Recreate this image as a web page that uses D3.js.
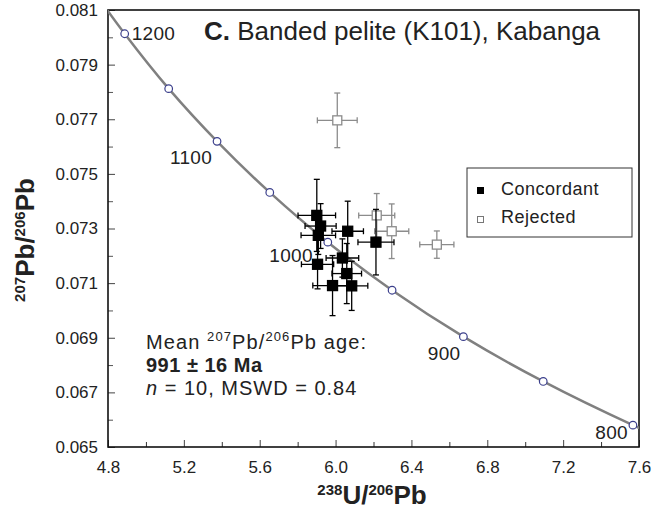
<!DOCTYPE html>
<html>
<head>
<meta charset="utf-8">
<script src="https://d3js.org/d3.v7.min.js"></script>
<style>
  body { margin: 0; background: #fff; }
  text { font-family: "Liberation Sans", Arial, sans-serif; fill: #222; }
</style>
</head>
<body>
<svg id="viz" width="652" height="511"></svg>
<script>
// concordia curve (ages in Ma) and its ratios
var concAge = [1250, 1200, 1150, 1100, 1050, 1000, 950, 900, 850, 800, 780];
var concX = [4.673, 4.888, 5.120, 5.375, 5.653, 5.959, 6.298, 6.674, 7.095, 7.568, 7.775];
var concY = [0.08219, 0.08013, 0.07812, 0.07619, 0.07432, 0.07250, 0.07074, 0.06904, 0.06740, 0.06580, 0.06518];
var markerAges = [1200, 1150, 1100, 1050, 1000, 950, 900, 850, 800];
var labelAges = [1200, 1100, 1000, 900, 800];

// concordant analyses
var concX_U = [5.901, 5.921, 5.909, 6.064, 6.213, 5.905, 6.036, 6.059, 5.984, 6.085];
var concY_Pb = [0.07348, 0.07309, 0.07275, 0.07290, 0.07250, 0.07169, 0.07192, 0.07135, 0.07091, 0.07090];
var concXErr = [0.099, 0.082, 0.091, 0.083, 0.095, 0.085, 0.086, 0.078, 0.104, 0.085];
var concYErr = [0.00132, 0.00082, 0.0007, 0.0011, 0.0012, 0.0009, 0.0007, 0.0011, 0.0011, 0.0009];

// rejected analyses
var rejX = [6.009, 6.217, 6.296, 6.534];
var rejY = [0.07696, 0.07348, 0.07290, 0.07241];
var rejXErr = [0.105, 0.095, 0.09, 0.09];
var rejYErr = [0.0010, 0.0008, 0.0010, 0.0005];

var xTicks = [4.8, 5.2, 5.6, 6.0, 6.4, 6.8, 7.2, 7.6];
var xMinor = [5.0, 5.4, 5.8, 6.2, 6.6, 7.0, 7.4];
var yTicks = [0.065, 0.067, 0.069, 0.071, 0.073, 0.075, 0.077, 0.079, 0.081];
var yMinor = [0.066, 0.068, 0.070, 0.072, 0.074, 0.076, 0.078, 0.080];

var padL = 108, padR = 639, padT = 10, padB = 447;
var svg = d3.select("#viz");

var x = d3.scaleLinear().domain([4.8, 7.6]).range([padL, padR]);
var y = d3.scaleLinear().domain([0.065, 0.081]).range([padB, padT]);

svg.append("clipPath").attr("id", "clip")
  .append("rect").attr("x", padL).attr("y", padT)
  .attr("width", padR - padL).attr("height", padB - padT);

// minor ticks
svg.append("g").attr("transform", "translate(0," + padB + ")")
  .call(d3.axisBottom(x).tickValues(xMinor).tickSize(-5).tickFormat(""))
  .call(function(g) { g.select(".domain").remove(); g.selectAll("line").attr("stroke", "#333"); });
svg.append("g").attr("transform", "translate(" + padL + ",0)")
  .call(d3.axisLeft(y).tickValues(yMinor).tickSize(-5).tickFormat(""))
  .call(function(g) { g.select(".domain").remove(); g.selectAll("line").attr("stroke", "#555"); });

// major axes
var xAxis = svg.append("g").attr("transform", "translate(0," + padB + ")")
  .call(d3.axisBottom(x).tickValues(xTicks).tickSize(-7).tickPadding(14).tickFormat(d3.format(".1f")));
var yAxis = svg.append("g").attr("transform", "translate(" + padL + ",0)")
  .call(d3.axisLeft(y).tickValues(yTicks).tickSize(-7).tickPadding(10).tickFormat(d3.format(".3f")));
[xAxis, yAxis].forEach(function(g) {
  g.select(".domain").remove();
  g.selectAll("line").attr("stroke", "#444");
  g.selectAll("text").style("font-size", "17px").style("font-family", "Liberation Sans, Arial").attr("fill", "#222");
});

// frame
svg.append("rect").attr("x", padL).attr("y", padT)
  .attr("width", padR - padL).attr("height", padB - padT)
  .attr("fill", "none").attr("stroke", "#111").attr("stroke-width", 1.6);

// concordia
var conc = concAge.map(function(a, i) { return { age: a, x: concX[i], y: concY[i] }; });
svg.append("path").datum(conc)
  .attr("clip-path", "url(#clip)")
  .attr("fill", "none").attr("stroke", "#808080").attr("stroke-width", 2.5)
  .attr("d", d3.line().x(function(d) { return x(d.x); }).y(function(d) { return y(d.y); }).curve(d3.curveCatmullRom));

var marks = conc.filter(function(d) { return markerAges.indexOf(d.age) >= 0; });
svg.selectAll(".agemark").data(marks).enter().append("circle")
  .attr("cx", function(d) { return x(d.x); })
  .attr("cy", function(d) { return y(d.y); })
  .attr("r", 3.8).attr("fill", "#fff").attr("stroke", "#3b3f8c").attr("stroke-width", 1.2);

var labOff = { 1200: [7, 6, "start"], 1100: [-5, 23, "end"], 1000: [-15, 20, "end"], 900: [-3, 23, "end"], 800: [-5, 14, "end"] };
svg.selectAll(".agelab").data(marks.filter(function(d) { return labelAges.indexOf(d.age) >= 0; }))
  .enter().append("text")
  .attr("x", function(d) { return x(d.x) + labOff[d.age][0]; })
  .attr("y", function(d) { return y(d.y) + labOff[d.age][1]; })
  .attr("text-anchor", function(d) { return labOff[d.age][2]; })
  .style("font-size", "19px").style("letter-spacing", "0.3px")
  .text(function(d) { return d.age; });

function drawSet(xs, ys, xe, ye, color, filled) {
  var data = xs.map(function(v, i) { return { x: v, y: ys[i], xe: xe[i], ye: ye[i] }; });
  var g = svg.append("g").attr("stroke", color).attr("stroke-width", 1.3);
  var cap = 3;
  data.forEach(function(d) {
    var cx = x(d.x), cy = y(d.y);
    var x0 = x(d.x - d.xe), x1 = x(d.x + d.xe), y0 = y(d.y + d.ye), y1 = y(d.y - d.ye);
    g.append("line").attr("x1", x0).attr("x2", x1).attr("y1", cy).attr("y2", cy);
    g.append("line").attr("x1", cx).attr("x2", cx).attr("y1", y0).attr("y2", y1);
    g.append("line").attr("x1", x0).attr("x2", x0).attr("y1", cy - cap).attr("y2", cy + cap);
    g.append("line").attr("x1", x1).attr("x2", x1).attr("y1", cy - cap).attr("y2", cy + cap);
    g.append("line").attr("x1", cx - cap).attr("x2", cx + cap).attr("y1", y0).attr("y2", y0);
    g.append("line").attr("x1", cx - cap).attr("x2", cx + cap).attr("y1", y1).attr("y2", y1);
  });
  var s = filled ? 10 : 9;
  g.selectAll("rect").data(data).enter().append("rect")
    .attr("x", function(d) { return x(d.x) - s / 2; })
    .attr("y", function(d) { return y(d.y) - s / 2; })
    .attr("width", s).attr("height", s)
    .attr("fill", filled ? "#000" : "#fff")
    .attr("stroke", filled ? "#000" : color);
}
drawSet(rejX, rejY, rejXErr, rejYErr, "#8c8c8c", false);
drawSet(concX_U, concY_Pb, concXErr, concYErr, "#000", true);

// legend
svg.append("rect").attr("x", 467).attr("y", 168).attr("width", 165).attr("height", 69)
  .attr("fill", "#fff").attr("stroke", "#333").attr("stroke-width", 1);
svg.append("rect").attr("x", 477).attr("y", 187).attr("width", 7).attr("height", 7).attr("fill", "#000");
svg.append("rect").attr("x", 477.5).attr("y", 216.5).attr("width", 6).attr("height", 6).attr("fill", "#fff").attr("stroke", "#777");
svg.append("text").attr("x", 501).attr("y", 195).style("font-size", "18px").style("letter-spacing", "0.5px").text("Concordant");
svg.append("text").attr("x", 501).attr("y", 223).style("font-size", "18px").style("letter-spacing", "0.5px").text("Rejected");

// title
var t = svg.append("text").attr("x", 204).attr("y", 40).style("font-size", "26px");
t.append("tspan").style("font-weight", "bold").text("C.");
t.append("tspan").text(" Banded pelite (K101), Kabanga");

// annotation
var a1 = svg.append("text").attr("x", 146).attr("y", 349).style("font-size", "20px").style("letter-spacing", "1.1px");
a1.append("tspan").text("Mean ");
a1.append("tspan").attr("dy", -8).style("font-size", "13px").text("207");
a1.append("tspan").attr("dy", 8).text("Pb/");
a1.append("tspan").attr("dy", -8).style("font-size", "13px").text("206");
a1.append("tspan").attr("dy", 8).text("Pb age:");
svg.append("text").attr("x", 146).attr("y", 372).style("font-size", "20px").style("letter-spacing", "0.5px")
  .style("font-weight", "bold").text("991 ± 16 Ma");
var a3 = svg.append("text").attr("x", 146).attr("y", 395).style("font-size", "20px").style("letter-spacing", "1px");
a3.append("tspan").style("font-style", "italic").text("n");
a3.append("tspan").text(" = 10, MSWD = 0.84");

// axis titles
var xt = svg.append("text").attr("x", 372).attr("y", 504).attr("text-anchor", "middle")
  .style("font-weight", "bold").style("font-size", "26px");
xt.append("tspan").attr("dy", -9).style("font-size", "15px").text("238");
xt.append("tspan").attr("dy", 9).text("U/");
xt.append("tspan").attr("dy", -9).style("font-size", "15px").text("206");
xt.append("tspan").attr("dy", 9).text("Pb");

var yt = svg.append("text").attr("transform", "translate(34,240) rotate(-90)").attr("text-anchor", "middle")
  .style("font-weight", "bold").style("font-size", "26px");
yt.append("tspan").attr("dy", -9).style("font-size", "15px").text("207");
yt.append("tspan").attr("dy", 9).text("Pb/");
yt.append("tspan").attr("dy", -9).style("font-size", "15px").text("206");
yt.append("tspan").attr("dy", 9).text("Pb");
</script>
</body>
</html>
